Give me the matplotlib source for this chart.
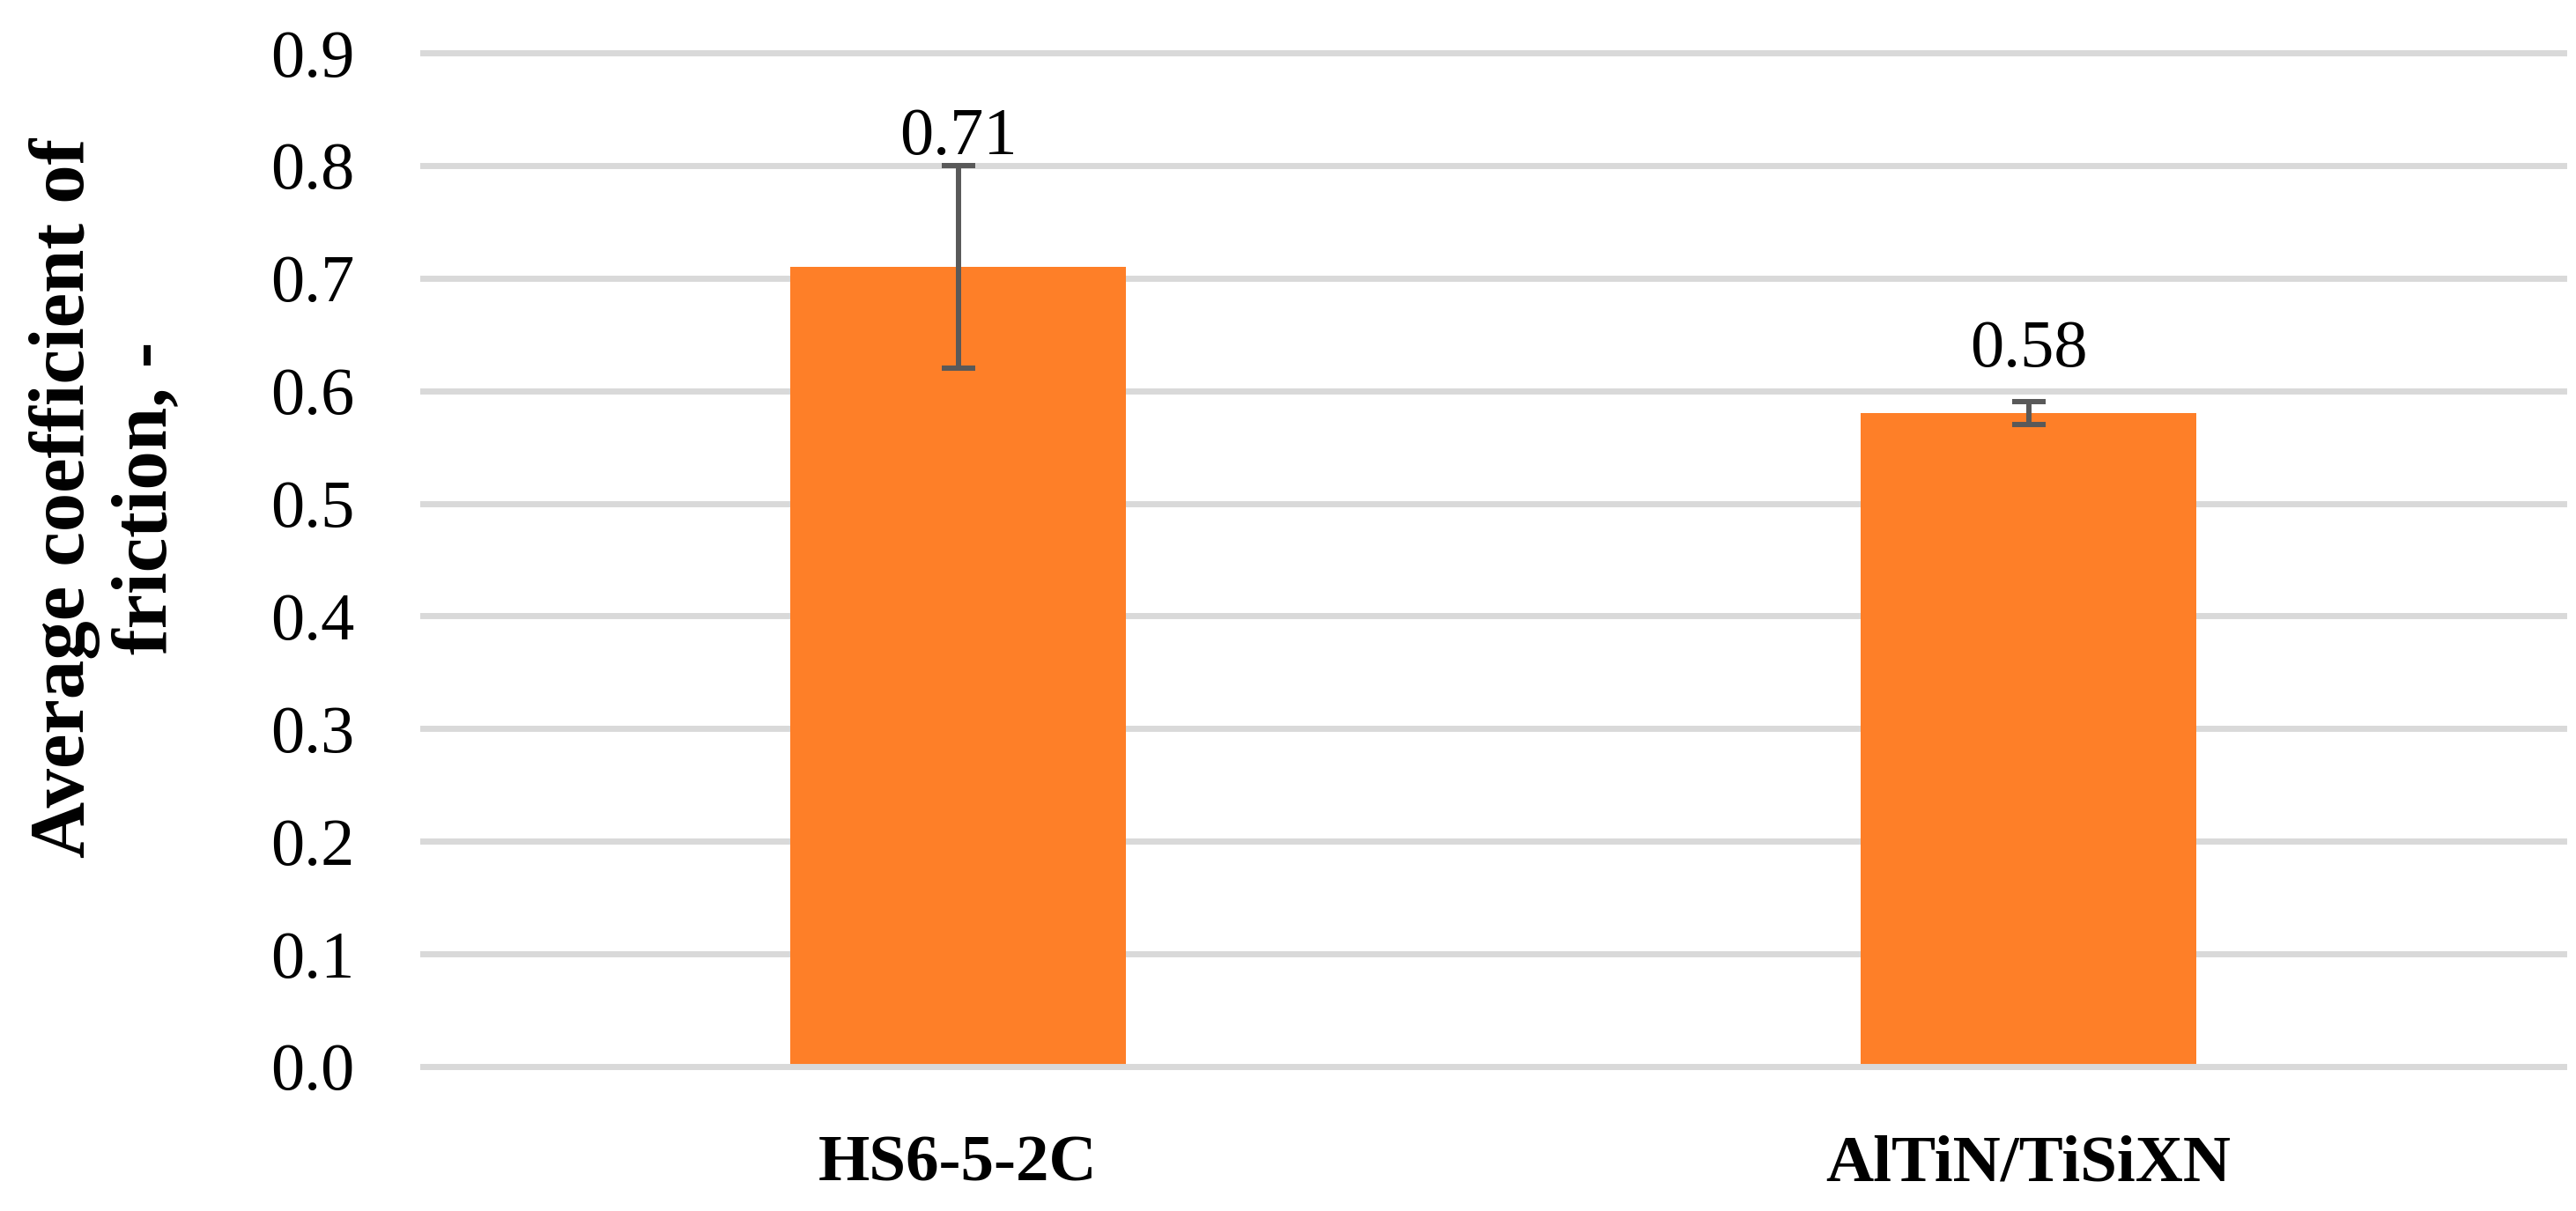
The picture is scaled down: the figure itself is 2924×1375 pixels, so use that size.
import numpy as np
import matplotlib.pyplot as plt

# 字体：衬线体
plt.rcParams['font.family'] = ['Liberation Serif', 'DejaVu Serif']

categories = ['HS6-5-2C', 'AlTiN/TiSiXN']
friction_mean = [0.71, 0.58]
friction_err = [0.09, 0.01]
value_labels = ['0.71', '0.58']
y_ticks = [0.0, 0.1, 0.2, 0.3, 0.4, 0.5, 0.6, 0.7, 0.8, 0.9]

bar_color = '#FE7F28'
grid_color = '#D9D9D9'
err_color = '#595959'

fig = plt.figure(figsize=(29.24, 13.75), dpi=100)
ax = fig.add_axes([480 / 2924, 1 - 1211 / 1375, 2430 / 2924, 1151 / 1375])

x = np.arange(len(categories))
ax.bar(x, friction_mean, width=0.313, color=bar_color, zorder=2)
ax.errorbar(x, friction_mean, yerr=friction_err, fmt='none', ecolor=err_color,
            elinewidth=4.3, capsize=14, capthick=4.3, zorder=3)

# 网格线 (不裁剪，顶部那条完整显示)
for t in y_ticks[1:]:
    ax.axhline(t, color=grid_color, lw=5, zorder=1, clip_on=False)

# 数值标签
label_gap = [9, 29]  # points above error bar top
for xi, m, e, lab, g in zip(x, friction_mean, friction_err, value_labels, label_gap):
    ax.annotate(lab, (xi, m + e), xytext=(0, g), textcoords='offset points',
                ha='center', va='baseline', fontsize=55, color='black')

ax.set_xlim(-0.5, len(categories) - 0.5)
ax.set_ylim(0, 0.9)
ax.set_yticks(y_ticks)
ax.set_yticklabels([f'{t:.1f}' for t in y_ticks], fontsize=55)
ax.set_xticks(x)
ax.set_xticklabels(categories, fontsize=54, fontweight='bold')
ax.tick_params(axis='y', length=0, pad=56)
ax.tick_params(axis='x', length=0, pad=56)

for s in ['top', 'right', 'left']:
    ax.spines[s].set_visible(False)
ax.spines['bottom'].set_color(grid_color)
ax.spines['bottom'].set_linewidth(5)
ax.spines['bottom'].set_zorder(4)

fig.text(120 / 2924, 1 - 565 / 1375, 'Average coefficient of\nfriction, -', rotation=90,
         ha='center', va='center', fontsize=64, fontweight='bold', linespacing=1.2,
         multialignment='center')

fig.savefig('out.png', dpi=100, facecolor='white')
